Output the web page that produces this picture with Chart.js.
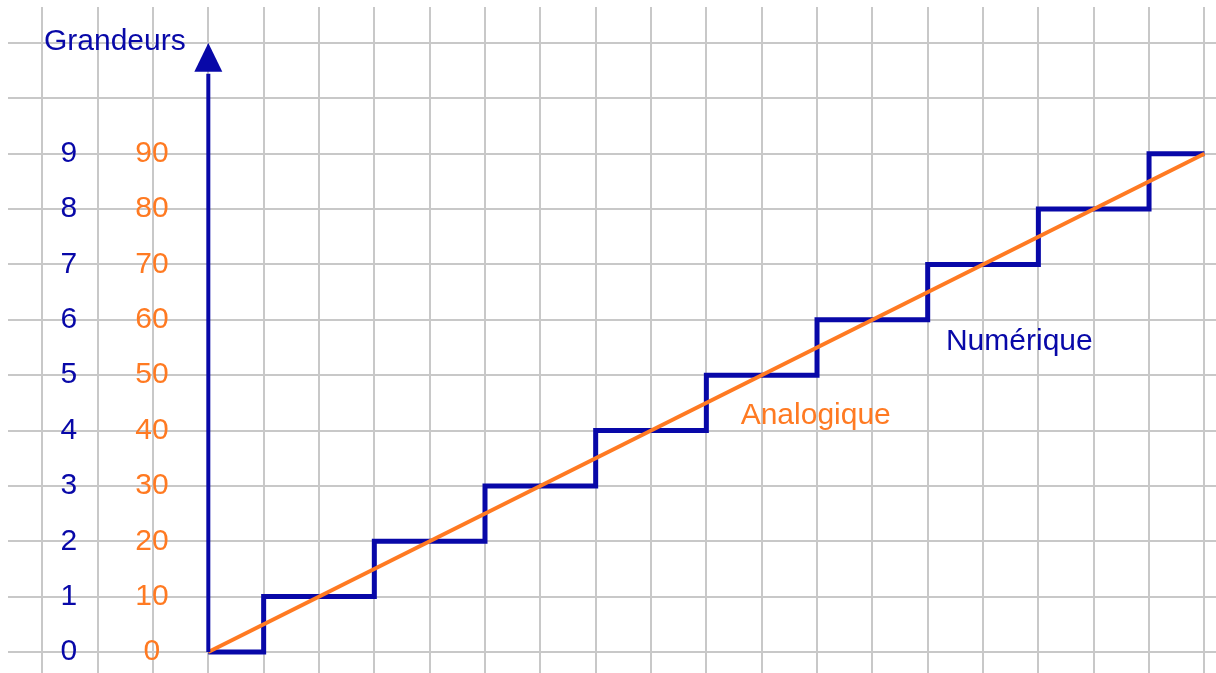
<!DOCTYPE html>
<html>
<head>
<meta charset="utf-8">
<script src="https://cdn.jsdelivr.net/npm/chart.js@4/dist/chart.umd.min.js"></script>
<style>
  body { margin: 0; background: #fff; }
  #wrap { width: 1216px; height: 673px; }
</style>
</head>
<body>
<div id="wrap"><canvas id="signalChart"></canvas></div>
<script>
// Numeric (stepped) signal: time in grid columns, level 0..9
const stepTimes = [0, 1, 3, 5, 7, 9, 11, 13, 15, 17, 18];
const digitalLevels = [0, 1, 2, 3, 4, 5, 6, 7, 8, 9, 9];
// Analog signal: straight ramp 0..90
const analogTimes = [0, 18];
const analogValues = [0, 90];
// Tick labels on the left
const blueTicks = [0, 1, 2, 3, 4, 5, 6, 7, 8, 9];
const orangeTicks = [0, 10, 20, 30, 40, 50, 60, 70, 80, 90];

const BLUE = '#0808a8';
const ORANGE = '#ff7a22';
const FONT = '30px "Liberation Sans", Arial, sans-serif';

// integer grid lines only
function intTicks(scale) {
    const ticks = [];
    for (let v = Math.ceil(scale.min); v <= Math.floor(scale.max); v++) ticks.push({ value: v });
    scale.ticks = ticks;
}

// axis arrow + labels
const decorations = {
    id: 'decorations',
    afterDatasetsDraw(chart) {
        const { ctx, scales: { x, y, y2 } } = chart;
        const x0 = x.getPixelForValue(0);
        const yBase = y.getPixelForValue(0);
        const yTip = y.getPixelForValue(11);
        const yHead = y.getPixelForValue(10.48);

        ctx.save();
        ctx.strokeStyle = BLUE;
        ctx.fillStyle = BLUE;
        ctx.lineWidth = 4;
        ctx.beginPath();
        ctx.moveTo(x0, yBase);
        ctx.lineTo(x0, yHead + 2);
        ctx.stroke();
        ctx.beginPath();
        ctx.moveTo(x0, yTip);
        ctx.lineTo(x0 - 14, yHead);
        ctx.lineTo(x0 + 14, yHead);
        ctx.closePath();
        ctx.fill();

        ctx.font = FONT;
        ctx.textBaseline = 'middle';
        ctx.textAlign = 'center';
        blueTicks.forEach(v => {
            ctx.fillStyle = BLUE;
            ctx.fillText(String(v), x.getPixelForValue(-2.52), y.getPixelForValue(v));
        });
        orangeTicks.forEach(v => {
            ctx.fillStyle = ORANGE;
            ctx.fillText(String(v), x.getPixelForValue(-1.02), y2.getPixelForValue(v));
        });

        ctx.textAlign = 'left';
        ctx.fillStyle = BLUE;
        ctx.fillText('Grandeurs', x.getPixelForValue(-2.97), y.getPixelForValue(11.02));
        ctx.fillText('Numérique', x.getPixelForValue(13.33), y.getPixelForValue(5.6));
        ctx.fillStyle = ORANGE;
        ctx.fillText('Analogique', x.getPixelForValue(9.62), y.getPixelForValue(4.26));
        ctx.restore();
    }
};

const ctx = document.getElementById('signalChart').getContext('2d');
new Chart(ctx, {
    type: 'line',
    data: {
        datasets: [
            {
                label: 'Analogique',
                data: analogTimes.map((t, i) => ({ x: t, y: analogValues[i] })),
                yAxisID: 'y2',
                borderColor: ORANGE,
                borderWidth: 4,
                pointRadius: 0,
                order: 0
            },
            {
                label: 'Numérique',
                data: stepTimes.map((t, i) => ({ x: t, y: digitalLevels[i] })),
                yAxisID: 'y',
                stepped: true,
                borderColor: BLUE,
                borderWidth: 5,
                borderJoinStyle: 'miter',
                pointRadius: 0,
                order: 1
            }
        ]
    },
    options: {
        responsive: true,
        maintainAspectRatio: false,
        animation: false,
        layout: { padding: { left: 8, top: 7, right: 0, bottom: 0 } },
        plugins: { legend: { display: false }, tooltip: { enabled: false } },
        scales: {
            x: {
                type: 'linear',
                min: -3.62,
                max: 18.21,
                afterBuildTicks: intTicks,
                ticks: { display: false },
                border: { display: false },
                grid: { color: '#c8c8c8', lineWidth: 2, drawTicks: false }
            },
            y: {
                type: 'linear',
                min: -0.38,
                max: 11.65,
                afterBuildTicks: intTicks,
                ticks: { display: false },
                border: { display: false },
                grid: { color: '#c8c8c8', lineWidth: 2, drawTicks: false }
            },
            y2: {
                type: 'linear',
                display: false,
                min: -3.8,
                max: 116.5
            }
        }
    },
    plugins: [decorations]
});
</script>
</body>
</html>
